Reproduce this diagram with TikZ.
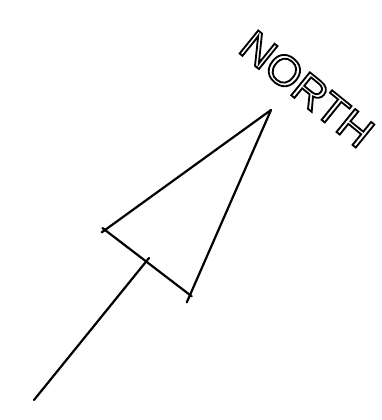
\documentclass[tikz,border=0pt]{standalone}
\usetikzlibrary{calc}
\usepackage{fontspec}
\setsansfont{Liberation Sans}
\newcommand{\outlinetext}[1]{\special{pdf:literal 0 G 2 Tr 1.8 w}#1\special{pdf:literal 0 Tr}}
\begin{document}
\begin{tikzpicture}[x=1pt,y=-1pt,
  stroke/.style={line width=2.2pt,line cap=round,black}]
\useasboundingbox (0,0) rectangle (381,420);
% corners of the arrowhead
\coordinate (apex) at (271,110);
\coordinate (lc) at (105,230);
\coordinate (rc) at (190,295);
\coordinate (mid) at (149,258);
\coordinate (tail) at (34,400);
% triangle sides (hand drawn, ends cross slightly)
\draw[stroke] (apex) -- ($(apex)!1.02!(lc)$);
\draw[stroke] (apex) -- ($(apex)!1.04!(rc)$);
\draw[stroke] ($(rc)!1.03!(lc)$) -- ($(lc)!1.02!(rc)$);
% shaft
\draw[stroke] (mid) -- (tail);
% label
\node[rotate=-39,font=\sffamily\fontsize{43}{43}\selectfont,text=white,inner sep=0pt]
  (north) at (307,89) {\scalebox{1.03}[1]{\outlinetext{NORTH}}};
\end{tikzpicture}
\end{document}
